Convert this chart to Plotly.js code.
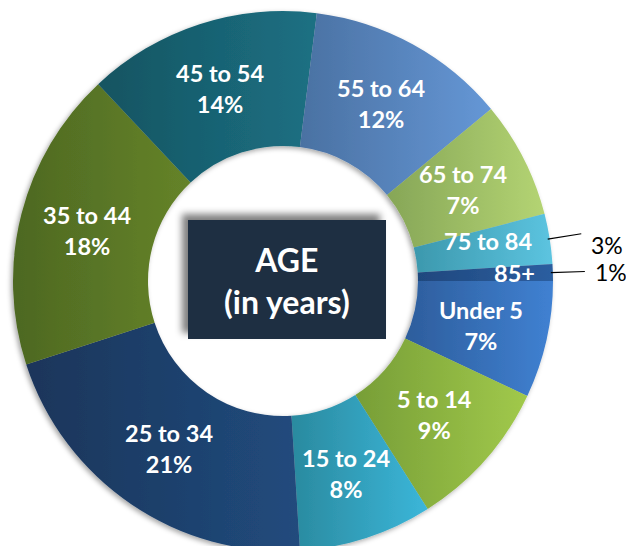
<!DOCTYPE html>
<html>
<head>
<meta charset="utf-8">
<script src="https://cdn.plot.ly/plotly-3.0.1.min.js"></script>
<style>
html,body{margin:0;padding:0;overflow:hidden;background:#ffffff;}
#chart{width:626px;height:560px;}
</style>
</head>
<body>
<div id="chart"></div>
<script>
// ---- data ----
const categories = ['Under 5','5 to 14','15 to 24','25 to 34','35 to 44','45 to 54','55 to 64','65 to 74','75 to 84','85+'];
const shares = [7, 9, 8, 21, 18, 14, 12, 7, 3, 1];
const centerTitle = ['AGE', '(in years)'];

// ---- styles ----
const colorLeft  = ['#2d5d9c','#779e37','#2a8a9f','#1a355a','#4d6822','#155461','#4a71a2','#86a657','#3c98ad','#1f487e'];
const colorRight = ['#4081d2','#a1c94b','#3bb6d9','#214b7d','#658329','#1c7083','#6597d6','#b4d473','#5cc4e0','#2c5ea0'];
const colorMid = colorLeft.map((c, i) => {
  const a = parseInt(c.slice(1), 16), b = parseInt(colorRight[i].slice(1), 16);
  const ch = s => Math.round((((a >> s) & 255) + ((b >> s) & 255)) / 2);
  return 'rgb(' + ch(16) + ',' + ch(8) + ',' + ch(0) + ')';
});

const W = 626, H = 560;
const CX = 283, CY = 281, R = 270, HOLE = 0.5, ROT = 90;
const FONT = 'Lato, "Open Sans", sans-serif';

const px = x => x / W;
const py = y => (H - y) / H;

// label placement derived from the pie geometry
const total = shares.reduce((a, b) => a + b, 0);
const annotations = [];
const shapes = [];
let cum = 0;
shares.forEach((v, i) => {
  const frac = (cum + v / 2) / total;
  cum += v;
  const th = (ROT + 360 * frac) * Math.PI / 180;
  const sx = Math.sin(th), cy = Math.cos(th);
  const pct = v + '%';
  if (v >= 5) {
    const r = R * (1 + HOLE) / 2;
    annotations.push({
      xref: 'paper', yref: 'paper', x: px(CX + r * sx), y: py(CY - r * cy),
      text: categories[i] + '<br>' + pct, showarrow: false,
      xanchor: 'center', yanchor: 'middle', align: 'center',
      font: {family: FONT, size: 23.5, color: '#ffffff', weight: 700}
    });
  } else {
    const r = R - 16;
    annotations.push({
      xref: 'paper', yref: 'paper', x: px(CX + r * sx), y: py(CY - r * cy),
      text: categories[i], showarrow: false,
      xanchor: 'right', yanchor: 'middle',
      font: {family: FONT, size: 23.5, color: '#ffffff', weight: 700}
    });
    const r0 = R - 2, r1 = R + 32;
    const x1 = CX + r1 * sx, y1 = CY - r1 * cy;
    shapes.push({
      type: 'line', xref: 'paper', yref: 'paper',
      x0: px(CX + r0 * sx), y0: py(CY - r0 * cy), x1: px(x1), y1: py(y1),
      line: {color: '#000000', width: 1.2}
    });
    annotations.push({
      xref: 'paper', yref: 'paper', x: px(x1 + 8), y: py(y1),
      yshift: v >= 2 ? -11 : 0,
      text: pct, showarrow: false, xanchor: 'left', yanchor: 'middle',
      font: {family: FONT, size: 23, color: '#000000'}
    });
  }
});

// centre box
const BX0 = 188, BX1 = 386, BY0 = 220, BY1 = 339;
const shadowShape = {type: 'rect', xref: 'paper', yref: 'paper', layer: 'above',
  x0: px(BX0 - 6), x1: px(BX1 - 6), y0: py(BY1 - 6), y1: py(BY0 - 6),
  fillcolor: 'rgba(0,0,0,0.5)', line: {width: 0}};
shapes.push(shadowShape);
shapes.push({type: 'rect', xref: 'paper', yref: 'paper', layer: 'above',
  x0: px(BX0), x1: px(BX1), y0: py(BY1), y1: py(BY0),
  fillcolor: '#1e2f42', line: {width: 0}});
annotations.push({
  xref: 'paper', yref: 'paper', x: px((BX0 + BX1) / 2), y: py((BY0 + BY1) / 2 + 1),
  text: centerTitle.join('<br>'), showarrow: false, xanchor: 'center', yanchor: 'middle',
  font: {family: FONT, size: 32, color: '#ffffff', weight: 700}
});

const trace = {
  type: 'pie',
  labels: categories,
  values: shares,
  sort: false,
  direction: 'clockwise',
  rotation: ROT,
  hole: HOLE,
  textinfo: 'none',
  hoverinfo: 'none',
  marker: {colors: colorMid, line: {width: 0}},
  domain: {x: [px(CX - R), px(CX + R)], y: [py(CY + R), py(CY - R)]}
};

const layout = {
  width: W, height: H,
  margin: {l: 0, r: 0, t: 0, b: 0},
  showlegend: false,
  paper_bgcolor: '#ffffff',
  font: {family: FONT},
  shapes: shapes,
  annotations: annotations
};

Plotly.newPlot('chart', [trace], layout, {displayModeBar: false, staticPlot: true}).then(gd => {
  const NS = 'http://www.w3.org/2000/svg';
  const svg = gd.querySelector('svg.main-svg');
  const defs = document.createElementNS(NS, 'defs');
  svg.insertBefore(defs, svg.firstChild);
  let html = '<filter id="pieShadow" x="-10%" y="-10%" width="120%" height="120%">' +
    '<feDropShadow dx="-2" dy="2" stdDeviation="2.5" flood-color="#000" flood-opacity="0.35"/></filter>' +
    '<filter id="boxBlur" x="-20%" y="-20%" width="140%" height="140%"><feGaussianBlur stdDeviation="3.5"/></filter>';
  colorLeft.forEach((c, i) => {
    html += '<linearGradient id="sliceGrad' + i + '" x1="0" y1="0" x2="1" y2="0">' +
      '<stop offset="0" stop-color="' + c + '"/><stop offset="1" stop-color="' + colorRight[i] + '"/></linearGradient>';
  });
  defs.innerHTML = html;
  gd.querySelectorAll('g.slice path.surface').forEach((p, i) => {
    p.style.fill = 'url(#sliceGrad' + i + ')';
  });
  const pl = gd.querySelector('g.pielayer');
  if (pl) pl.setAttribute('filter', 'url(#pieShadow)');
  const shapePaths = gd.querySelectorAll('.layer-above .shapelayer path');
  const si = shapes.indexOf(shadowShape);
  if (shapePaths[si]) shapePaths[si].setAttribute('filter', 'url(#boxBlur)');
});
</script>
</body>
</html>
